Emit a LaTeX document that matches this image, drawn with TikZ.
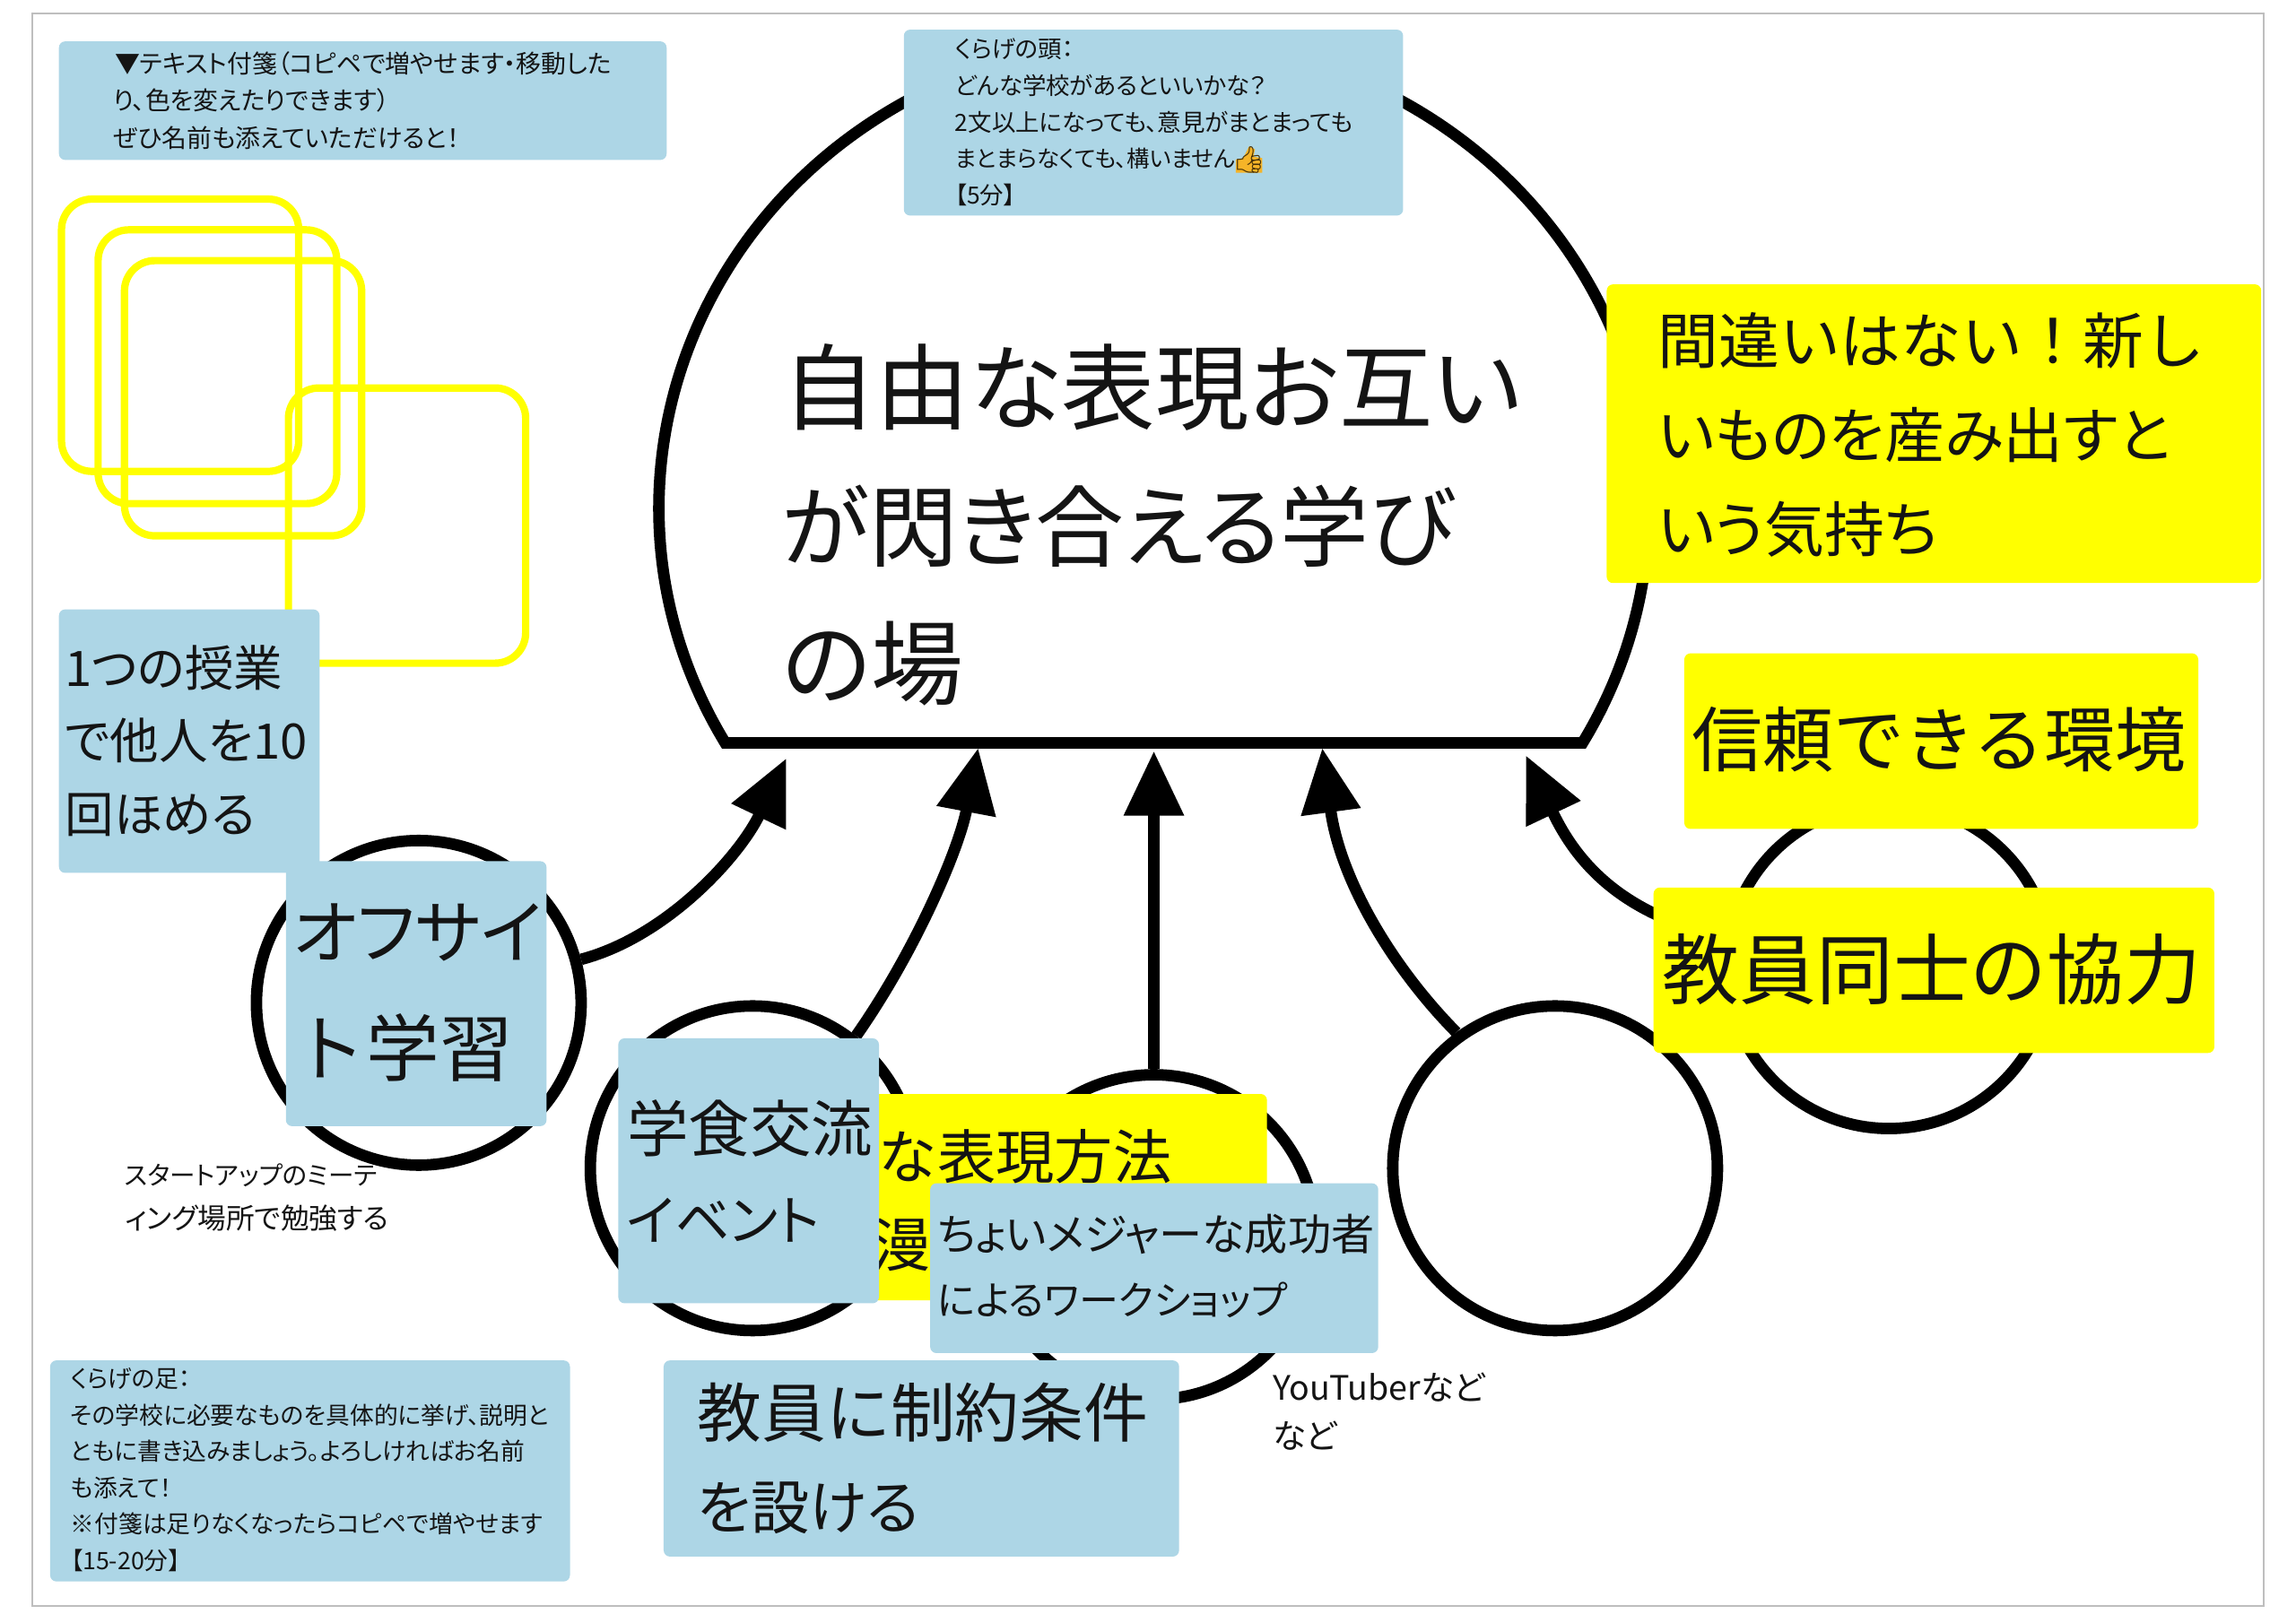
\documentclass[tikz,border=0pt]{standalone}
\usepackage{fontspec}
\usetikzlibrary{arrows.meta}
\setmainfont{Noto Sans CJK JP}[RawFeature=+palt]
\newfontfamily\fullw{Noto Sans CJK JP}
\newfontfamily\emojifont{Noto Emoji}
\definecolor{sblue}{RGB}{173,214,230}
\definecolor{syellow}{RGB}{255,255,0}
\definecolor{inkc}{RGB}{20,20,20}
\definecolor{frameg}{RGB}{190,190,190}
\definecolor{thumbc}{RGB}{245,180,40}
\definecolor{thumbl}{RGB}{70,50,10}
\newcommand\fsz[2]{\pgfmathsetmacro\fszA{0.8163*#1}\pgfmathsetmacro\fszB{0.8163*#2}\fontsize{\fszA pt}{\fszB pt}\selectfont}
% sticky{name}{colour}{x1}{y1}{x2}{y2}
\newcommand\stk[6]{\node[stickybox,fill=#2,anchor=north west,minimum width={(#5-#3)*0.8163pt},minimum height={(#6-#4)*0.8163pt}] (#1) at (#3,#4) {};}
\newcommand\rrect[5]{\draw[squarering] (#2,#3) rectangle (#4,#5) coordinate (#1);}
\tikzset{
  x=0.8163pt,y=-0.8163pt,
  stickybox/.style={rectangle,rounded corners=3.5pt,inner sep=0pt,draw=none},
  squarering/.style={draw=syellow,line width=4.1pt,rounded corners=17pt},
  ring/.style={circle,draw=black,fill=white,line width=6.4pt,inner sep=0pt,minimum size=181pt},
  lbl/.style={anchor=west,inner sep=0pt,align=left,text=inkc},
  feeler/.style={draw=black,line width=6.4pt,-{Triangle[length=36pt,width=32pt]}},
}
\begin{document}
\begin{tikzpicture}
\useasboundingbox (0,0) rectangle (1568,1108.6);
\fill[white] (0,0) rectangle (1568,1108.6);
\draw[frameg,line width=1pt] (22,9) rectangle (1546,1097);
% yellow rings
\rrect{r1}{42}{136}{204}{322}
\rrect{r2}{67}{157}{230}{344}
\rrect{r3}{85}{178}{247}{366}
\rrect{r4}{197}{265}{359}{453}
% jelly head
\draw[black,fill=white,line width=6.4pt,line join=miter] (495.3,507.5) arc[start angle=150,end angle=390,x radius=338,y radius=321] -- cycle;
\coordinate (t1) at (537,518);
\coordinate (t2) at (668,511);
\coordinate (t3) at (788,513);
\coordinate (t4) at (903,511);
\coordinate (t5) at (1042,516);
% legs
\node[ring] (c1) at (286,685) {};
\node[ring] (c2) at (514,798) {};
\node[ring] (c3) at (788,845) {};
\node[ring] (c4) at (1062,798) {};
\node[ring] (c5) at (1290,660) {};
\draw[feeler] (c1.15) .. controls (455,640) and (505,585) .. (t1);
\draw[feeler] (c2.52) .. controls (625,650) and (655,580) .. (t2);
\draw[feeler] (c3.north) -- (t3);
\draw[feeler] (c4.126) .. controls (950,660) and (915,600) .. (t4);
\draw[feeler] (c5.170) .. controls (1110,625) and (1078,592) .. (t5);
% stickies
\stk{sA}{sblue}{40}{28}{455}{109}
\node[lbl,font={\fsz{17.1}{25.5}}] (tA) at (77,68.5) {\hspace*{1pt}▼テキスト付箋（コピペで増やせます・移動した\\り、色を変えたりできます）\\ぜひ名前も添えていただけると！};
\stk{sHead}{sblue}{617}{20}{958}{147}
\node[lbl,font={\fsz{16.2}{25}}] (tHead) at (652,83.5) {くらげの頭：\\どんな学校があるといいかな？\\2文以上になっても、意見がまとまっても\\{\fsz{15.6}{25}まとまらなくても、構いません}\\【5分】};
\fill[thumbc] (844,118) -- (844,109) -- (849,108) -- (853,100) -- (857,102) -- (856,107) -- (862,108) -- (862,118) -- cycle;
\node[inner sep=0pt,text=thumbl,font={\fsz{18}{18}\emojifont}] (tThumb) at (853,109) {👍};
\node[lbl,font={\fsz{64}{94}}] (tMain) at (534,358.5) {自由な表現お互い\\{\fsz{60.5}{94}が閃き合える学び}\\{\fsz{63}{94}の場}};
\stk{sOne}{sblue}{40}{416}{218}{596}
\node[lbl,font={\fsz{33.4}{50}}] (tOne) at (44,506) {1つの授業\\で他人を10\\回ほめる};
\stk{sOff}{sblue}{195}{588}{373}{769}
\node[lbl,font={\fsz{50}{80}}] (tOff) at (200,678) {{\fsz{47.5}{80}オフサイ}\\{\fullw ト学習}};
\node[lbl,font={\fsz{19}{30}}] (tStart) at (85,818) {{\fsz{17.5}{30}スタートアップのミーテ}\\{\fsz{19.4}{30}ィング場所で勉強する}};
\stk{sExpr}{syellow}{560}{747}{865}{888}
\node[lbl,font={\fsz{40}{60}\fullw}] (tExpr) at (592,820) {\hspace*{6.5pt}な表現方法\\\hspace*{3pt}漫};
\stk{sCafe}{sblue}{422}{709}{600}{890}
\node[lbl,font={\fsz{42}{61}}] (tCafe) at (428,800) {{\fullw 学食交流}\\{\fsz{37}{61}イベント}};
\stk{sMajor}{sblue}{635}{808}{941}{924}
\node[lbl,font={\fsz{29.5}{44}}] (tMajor) at (640,865) {ちょいメジャーな成功者\\{\fsz{27}{44}によるワークショップ}};
\stk{sCons}{sblue}{453}{929}{805}{1063}
\node[lbl,font={\fsz{44}{63}}] (tCons) at (476,996) {{\fullw 教員に制約条件}\\{\fsz{40}{63}を設ける}};
\node[lbl,font={\fsz{23}{33}}] (tYou) at (869,964) {YouTuberなど\\など};
\stk{sFoot}{sblue}{34}{929}{389}{1080}
\node[lbl,font={\fsz{16.4}{24.8}}] (tFoot) at (48,1004) {くらげの足：\\その学校に必要なものを具体的に挙げ、説明と\\ともに書き込みましょう。よろしければお名前\\も添えて！\\※付箋は足りなくなったらコピペで増やせます\\【15-20分】};
\stk{sMist}{syellow}{1097}{194}{1544}{398}
\node[lbl,font={\fsz{41}{64.5}}] (tMist) at (1132,297) {{\fullw\fsz{41.5}{64.5}間違いはない！新し}\\いものを産み出すと\\いう気持ち};
\stk{sTrust}{syellow}{1150}{446}{1501}{566}
\node[lbl,font={\fsz{48.4}{60}\fullw}] (tTrust) at (1155,505) {信頼できる環境};
\stk{sCoop}{syellow}{1129}{606}{1512}{719}
\node[lbl,font={\fsz{52.6}{60}\fullw}] (tCoop) at (1135,662) {教員同士の協力};
\end{tikzpicture}
\end{document}
